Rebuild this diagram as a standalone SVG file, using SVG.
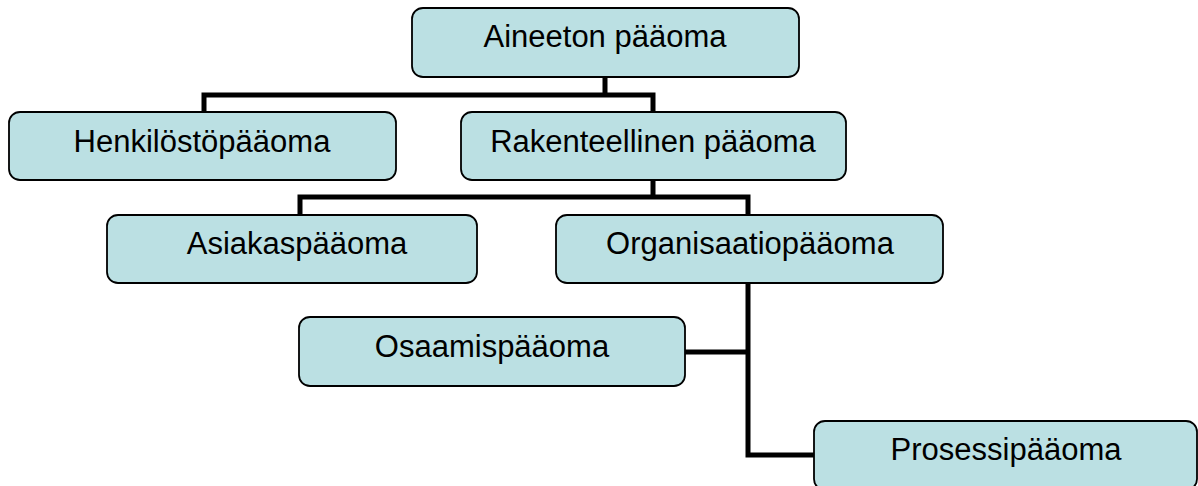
<svg xmlns="http://www.w3.org/2000/svg" width="1198" height="486" viewBox="0 0 1198 486">
<style>
.box{fill:#bbe0e3;stroke:#000;stroke-width:1.8}
.lbl{font-family:"Liberation Sans",Arial,sans-serif;font-size:31px;fill:#000;text-anchor:middle}
.conn{fill:none;stroke:#000;stroke-width:5;stroke-linejoin:miter;stroke-linecap:butt}
</style>
<rect width="1198" height="486" fill="#fff"/>
<g id="connectors">
<path class="conn" d="M605,77 V95 M204,112 V95 H653 V112"/>
<path class="conn" d="M653,180 V197 M300,215 V197 H748 V215"/>
<path class="conn" d="M748,283 V455 H814 M685,352 H748"/>
</g>
<g id="aineeton"><rect class="box" x="412" y="8" width="387" height="69" rx="11"/><text class="lbl" x="605" y="47">Aineeton pääoma</text></g>
<g id="henkilosto"><rect class="box" x="9" y="112" width="387" height="68" rx="11"/><text class="lbl" x="202" y="152">Henkilöstöpääoma</text></g>
<g id="rakenteellinen"><rect class="box" x="461" y="112" width="385" height="68" rx="11"/><text class="lbl" x="653" y="152">Rakenteellinen pääoma</text></g>
<g id="asiakas"><rect class="box" x="107" y="215" width="370" height="68" rx="11"/><text class="lbl" x="297" y="254">Asiakaspääoma</text></g>
<g id="organisaatio"><rect class="box" x="556" y="215" width="387" height="68" rx="11"/><text class="lbl" x="750" y="254">Organisaatiopääoma</text></g>
<g id="osaamis"><rect class="box" x="299" y="317" width="386" height="69" rx="11"/><text class="lbl" x="492" y="357">Osaamispääoma</text></g>
<g id="prosessi"><rect class="box" x="814" y="421" width="383" height="69" rx="11"/><text class="lbl" x="1006" y="460">Prosessipääoma</text></g>
</svg>
